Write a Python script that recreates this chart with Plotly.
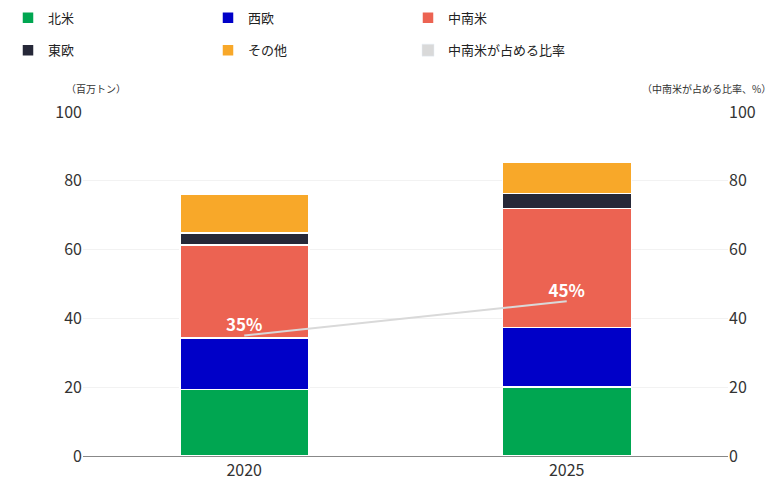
import plotly.graph_objects as go

years = ["2020", "2025"]
north_america = [19.3, 20.0]
west_europe = [15.0, 17.3]
latin_america = [27.0, 34.7]
east_europe = [3.5, 4.3]
others = [11.2, 9.0]
latam_share = [35, 45]
share_labels = ["<b>35%</b>", "<b>45%</b>"]

FONT = "Noto Sans CJK JP"

fig = go.Figure()
series = [
    ("北米", north_america, "#00a651", "legend"),
    ("西欧", west_europe, "#0000c8", "legend"),
    ("中南米", latin_america, "#ec6352", "legend"),
    ("東欧", east_europe, "#262838", "legend2"),
    ("その他", others, "#f8a829", "legend2"),
]
for name, vals, color, lg in series:
    fig.add_trace(go.Bar(x=years, y=vals, name=name, marker=dict(color=color, line=dict(color="white", width=1.5)),
                         legend=lg, width=0.4))

# legend-only swatch for the share line
fig.add_trace(go.Bar(x=years, y=[None, None], name="中南米が占める比率", marker_color="#d9d9d9", legend="legend2"))

fig.add_trace(go.Scatter(x=years, y=latam_share, yaxis="y2", mode="lines+text", text=share_labels,
                         textposition="top center", textfont=dict(color="white", size=17, family=FONT),
                         line=dict(color="#d9d9d9", width=2), showlegend=False, cliponaxis=False))

axis_font = dict(size=16, color="#333333", family=FONT)
legend_common = dict(orientation="h", x=-0.012, xanchor="left", xref="container", yref="container",
                     font=dict(size=13, color="#222222", family=FONT),
                     entrywidth=155, itemwidth=30, traceorder="normal", bgcolor="rgba(0,0,0,0)")
fig.update_layout(
    barmode="stack",
    width=777, height=485,
    margin=dict(l=75, r=57, t=104, b=26),
    plot_bgcolor="white", paper_bgcolor="white",
    font=dict(family=FONT),
    legend=dict(y=0.98, yanchor="middle", **legend_common),
    legend2=dict(y=0.913, yanchor="middle", **legend_common),
    xaxis=dict(tickfont=axis_font, showline=True, linecolor="#888888", ticks=""),
    yaxis=dict(range=[0, 100], dtick=20, tickfont=axis_font, showgrid=True, gridcolor="#f2f2f2",
               zeroline=False, ticks=""),
    yaxis2=dict(range=[0, 100], dtick=20, tickfont=axis_font, overlaying="y", side="right",
                showgrid=False, zeroline=False),
    annotations=[
        dict(text="（百万トン）", xref="paper", yref="paper", x=-0.03, y=1.04, xanchor="left", yanchor="bottom",
             showarrow=False, font=dict(size=10, color="#333333", family=FONT)),
        dict(text="（中南米が占める比率、%）", xref="paper", yref="paper", x=1.07, y=1.04, xanchor="right",
             yanchor="bottom", showarrow=False, font=dict(size=10, color="#333333", family=FONT)),
    ],
)

fig.write_html("out.html")
